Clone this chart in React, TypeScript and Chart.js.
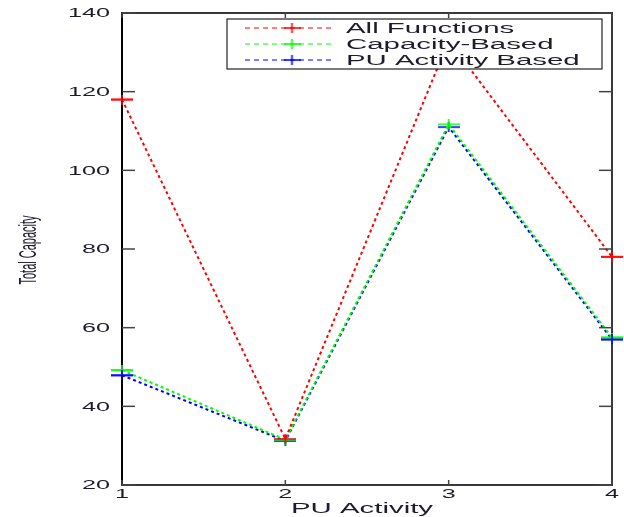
import React, { useEffect, useRef } from "react";
import { Chart, registerables } from "chart.js";

Chart.register(...registerables);

const xValues = [1, 2, 3, 4];
const allFunctions = [118, 31.7, 133, 78];
const capacityBased = [49.2, 31.5, 111.7, 57.5];
const puActivityBased = [47.9, 31.2, 111, 57];
const seriesNames = ["All Functions", "Capacity-Based", "PU Activity Based"];
const seriesColors = ["#ff0000", "#00ff00", "#0000ff"];
const yTicks = [20, 40, 60, 80, 100, 120, 140];
const xTicks = [1, 2, 3, 4];
const xTitle = "PU Activity";
const yTitle = "Total Capacity";

const SX = 2.1;
const FONT = "'Liberation Sans', Arial, sans-serif";
const TEXT_COLOR = "#1c1c2a";

function makePlus(color: string, w: number, h: number) {
  const c = document.createElement("canvas");
  c.width = w;
  c.height = h;
  const g = c.getContext("2d")!;
  g.strokeStyle = color;
  g.lineWidth = 1.6;
  g.beginPath();
  g.moveTo(0, h / 2);
  g.lineTo(w, h / 2);
  g.moveTo(w / 2, 0);
  g.lineTo(w / 2, h);
  g.stroke();
  return c;
}

function sText(
  ctx: CanvasRenderingContext2D,
  text: string,
  x: number,
  y: number,
  align: CanvasTextAlign,
  sx: number
) {
  ctx.save();
  ctx.translate(x, y);
  ctx.scale(sx, 1);
  ctx.textAlign = align;
  ctx.textBaseline = "alphabetic";
  ctx.fillText(text, 0, 0);
  ctx.restore();
}

function seg(ctx: CanvasRenderingContext2D, x1: number, y1: number, x2: number, y2: number) {
  ctx.beginPath();
  ctx.moveTo(x1, y1);
  ctx.lineTo(x2, y2);
  ctx.stroke();
}

export default function App() {
  const ref = useRef<HTMLCanvasElement | null>(null);

  useEffect(() => {
    document.body.style.margin = "0";
    const canvas = ref.current!;
    const pluses = seriesColors.map((c) => makePlus(c, 22, 10));
    const legendPluses = seriesColors.map((c) => makePlus(c, 17, 10));
    const series = [allFunctions, capacityBased, puActivityBased];

    const decor = {
      id: "decor",
      afterDraw(chart: any) {
        const { ctx, chartArea: a, scales } = chart;
        const x = scales.x;
        const y = scales.y;
        ctx.save();
        // frame
        ctx.setLineDash([]);
        ctx.strokeStyle = "#3a3a3a";
        ctx.lineWidth = 2;
        ctx.strokeRect(a.left, a.top, a.right - a.left, a.bottom - a.top);
        ctx.strokeStyle = "#000";
        seg(ctx, a.left, a.top, a.left, a.bottom);
        // ticks
        ctx.strokeStyle = "#444";
        ctx.lineWidth = 1.5;
        yTicks.forEach((v) => {
          const py = y.getPixelForValue(v);
          seg(ctx, a.left, py, a.left + 13, py);
          seg(ctx, a.right, py, a.right - 13, py);
        });
        xTicks.forEach((v) => {
          const px = x.getPixelForValue(v);
          seg(ctx, px, a.bottom, px, a.bottom - 5);
          seg(ctx, px, a.top, px, a.top + 5);
        });
        // redraw edge markers over the frame
        chart.data.datasets.forEach((ds: any, i: number) => {
          const meta = chart.getDatasetMeta(i);
          meta.data.forEach((pt: any, j: number) => {
            if (j === 0 || j === meta.data.length - 1) {
              ctx.drawImage(pluses[i], pt.x - 11, pt.y - 5);
            }
          });
        });
        // tick labels
        ctx.fillStyle = TEXT_COLOR;
        ctx.font = `12px ${FONT}`;
        yTicks.forEach((v) => {
          const py = y.getPixelForValue(v);
          sText(ctx, String(v), 110, py + 4.3, "right", SX);
        });
        xTicks.forEach((v) => {
          const px = x.getPixelForValue(v);
          sText(ctx, String(v), px, 498, "center", SX);
        });
        // axis titles
        ctx.font = `14px ${FONT}`;
        sText(ctx, xTitle, 362, 513, "center", SX);
        ctx.save();
        ctx.translate(30, 250);
        ctx.rotate(-Math.PI / 2);
        ctx.scale(1, SX);
        ctx.font = `11px ${FONT}`;
        ctx.textAlign = "center";
        ctx.textBaseline = "middle";
        ctx.fillText(yTitle, 0, 0);
        ctx.restore();
        // legend
        const lx = 227, ly = 19, lw = 375, lh = 50;
        ctx.fillStyle = "#fff";
        ctx.fillRect(lx, ly, lw, lh);
        ctx.strokeStyle = "#222";
        ctx.lineWidth = 1.2;
        ctx.strokeRect(lx, ly, lw, lh);
        const rows = [28, 44, 60];
        seriesNames.forEach((name, i) => {
          const ry = rows[i];
          ctx.strokeStyle = seriesColors[i];
          ctx.lineWidth = 1;
          ctx.setLineDash([5, 4]);
          seg(ctx, 245, ry, 335, ry);
          ctx.setLineDash([]);
          ctx.drawImage(legendPluses[i], 292 - 8.5, ry - 5);
          ctx.fillStyle = TEXT_COLOR;
          ctx.font = `14px ${FONT}`;
          sText(ctx, name, 346, ry + 5, "left", SX);
        });
        ctx.restore();
      },
    };

    const chart = new Chart(canvas, {
      type: "line",
      data: {
        datasets: series.map((vals, i) => ({
          label: seriesNames[i],
          data: xValues.map((xv, j) => ({ x: xv, y: vals[j] })),
          borderColor: seriesColors[i],
          backgroundColor: seriesColors[i],
          borderWidth: 2,
          borderDash: [3, 3],
          pointStyle: pluses[i] as any,
          pointRadius: 6,
          tension: 0,
          fill: false,
          clip: false,
        })),
      },
      options: {
        animation: false,
        responsive: false,
        devicePixelRatio: 1,
        layout: { padding: { left: 122, right: 12, top: 13, bottom: 32 } },
        plugins: { legend: { display: false }, tooltip: { enabled: false } },
        scales: {
          x: { type: "linear", min: 1, max: 4, display: false },
          y: { type: "linear", min: 20, max: 140, display: false },
        },
      },
      plugins: [decor],
    });
    return () => chart.destroy();
  }, []);

  return (
    <div style={{ width: 624, height: 517, background: "#fff" }}>
      <canvas ref={ref} width={624} height={517} style={{ display: "block" }} />
    </div>
  );
}
